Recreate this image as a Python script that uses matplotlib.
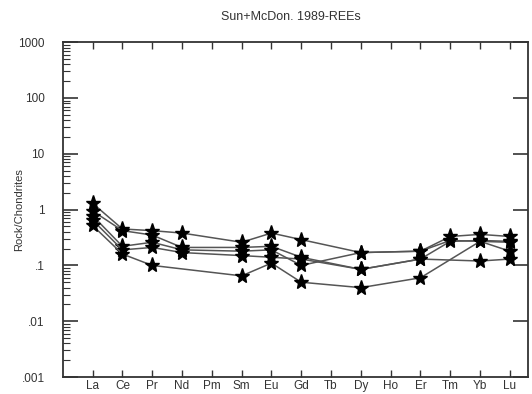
import numpy as np
import matplotlib
matplotlib.use("Agg")
from matplotlib import pyplot as plt
from matplotlib.ticker import LogLocator, NullFormatter

plt.rcParams['font.family'] = ['Liberation Sans', 'DejaVu Sans']

# 元素 (球粒陨石标准化)
elements = ['La', 'Ce', 'Pr', 'Nd', 'Pm', 'Sm', 'Eu', 'Gd', 'Tb',
            'Dy', 'Ho', 'Er', 'Tm', 'Yb', 'Lu']
nan = np.nan
s1 = [1.30, 0.45, 0.42, 0.38, nan, 0.26, 0.38, 0.29, nan, 0.17, nan, 0.18, 0.33, 0.36, 0.33]
s2 = [0.95, 0.42, 0.35, 0.21, nan, 0.21, 0.22, 0.14, nan, 0.085, nan, 0.13, 0.27, 0.28, 0.27]
s3 = [0.78, 0.22, 0.26, 0.19, nan, 0.18, 0.19, 0.10, nan, 0.17, nan, 0.18, 0.28, 0.27, 0.26]
s4 = [0.65, 0.19, 0.21, 0.17, nan, 0.15, 0.14, 0.13, nan, 0.085, nan, 0.13, nan, 0.12, 0.13]
s5 = [0.52, 0.16, 0.10, nan, nan, 0.065, 0.11, 0.05, nan, 0.04, nan, 0.06, nan, 0.27, 0.18]

fig = plt.figure(figsize=(5.32, 3.94), dpi=100)
ax = fig.add_axes([0.118, 0.043, 0.874, 0.85])

x = np.arange(len(elements))
for s in [s1, s2, s3, s4, s5]:
    y = np.array(s)
    ok = ~np.isnan(y)
    ax.plot(x[ok], y[ok], color='#555555', lw=1.1, marker='*', ms=11,
            mfc='black', mec='black', zorder=3)

ax.set_yscale('log')
ax.set_ylim(0.001, 1000)
ax.set_xlim(-1, 14.6)

ax.set_yticks([0.001, 0.01, 0.1, 1, 10, 100, 1000])
ax.set_yticklabels(['.001', '.01', '.1', '1', '10', '100', '1000'], fontsize=8.5)
ax.yaxis.set_minor_locator(LogLocator(base=10, subs=np.arange(2, 10)))
ax.yaxis.set_minor_formatter(NullFormatter())
ax.set_xticks(x)
ax.set_xticklabels(elements, fontsize=8.5)

ax.tick_params(axis='y', which='major', direction='in', length=11, width=1.2,
               right=True, pad=13, colors='#333333', labelcolor='#333333')
ax.tick_params(axis='y', which='minor', direction='in', length=5, width=0.8,
               right=False, colors='#333333')
ax.tick_params(axis='x', which='major', direction='in', length=5, width=1,
               top=True, pad=2, colors='#333333', labelcolor='#333333')
for sp in ax.spines.values():
    sp.set_linewidth(1.3)
    sp.set_color('#333333')

ax.set_ylabel('Rock/Chondrites', fontsize=8, labelpad=-4, color='#333333')
fig.text(0.547, 0.957, 'Sun+McDon. 1989-REEs', ha='center', va='center',
         fontsize=9, color='#333333')

fig.savefig('out.png', dpi=100)
